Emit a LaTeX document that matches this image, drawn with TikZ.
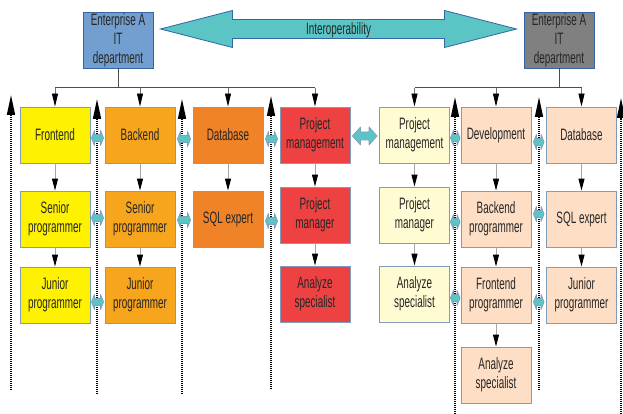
\documentclass[tikz,border=0pt]{standalone}
\usepackage{fontspec}
\setmainfont{Liberation Sans}[FakeStretch=0.6]
\usetikzlibrary{arrows.meta,calc}
\definecolor{cblue}{HTML}{729FCF}
\definecolor{cgray}{HTML}{808080}
\definecolor{cyel}{HTML}{FFF200}
\definecolor{corg}{HTML}{F8A51E}
\definecolor{cdb}{HTML}{F08327}
\definecolor{cred}{HTML}{EE4242}
\definecolor{clyel}{HTML}{FFFBD2}
\definecolor{cpch}{HTML}{FEDFC6}
\definecolor{cteal}{HTML}{5BC5C5}
\definecolor{cedge}{HTML}{7F9DB9}
\definecolor{ctop}{HTML}{3465A4}
\newcommand\dbl[7]{% left node, right node, y, half head height, half shaft, head length, gap
  \coordinate (yref) at (0,#3);
  \coordinate (dL) at ($(#1.east|-yref)+(#7,0)$);
  \coordinate (dR) at ($(#2.west|-yref)+(-#7,0)$);
  \path[dblarrow] (dL) -- ($(dL)+(#6,-#4)$) -- ($(dL)+(#6,-#5)$) -- ($(dR)+(-#6,-#5)$)
    -- ($(dR)+(-#6,-#4)$) -- (dR) -- ($(dR)+(-#6,#4)$) -- ($(dR)+(-#6,#5)$)
    -- ($(dL)+(#6,#5)$) -- ($(dL)+(#6,#4)$) -- cycle;
}
\begin{document}
\begin{tikzpicture}[x=1pt,y=-1pt,
  box/.style={draw=cedge, line width=0.9pt, minimum width=70pt, minimum height=56pt,
    inner sep=0pt, align=center, text=black!85, font=\fontsize{16.5}{19}\selectfont},
  topbox/.style={box, draw=ctop},
  dblarrow/.style={fill=cteal, draw=cedge, line width=0.7pt, line join=round},
  bigarrow/.style={fill=cteal, draw=ctop, line width=0.8pt},
  vdot/.style={line width=1.6pt, black, dash pattern=on 1pt off 1pt,
    -{Triangle[length=20pt,width=8pt,color=black]}},
  tree/.style={draw=black!70, line width=1pt},
  treearr/.style={draw=black!55, line width=0.8pt, -{Triangle[length=13pt,width=6pt,color=black]}},
  colarr/.style={draw=black!35, line width=1pt, -{Triangle[length=12pt,width=6pt,color=black]}},
  lbl/.style={inner sep=0pt, text=black!85, font=\fontsize{16.5}{19}\selectfont}
]
\useasboundingbox (0,0) rectangle (623,414);
\fill[white] (0,0) rectangle (623,414);

% dotted vertical arrows
\foreach \n/\x/\yb/\yt in {1/11/390/95, 2/97/394/99, 3/182/394/99, 4/271/389/96,
                           5/455/414/97, 6/539/390/97, 7/621/414/98} {
  \coordinate (vb\n) at (\x,\yb);
  \coordinate (vt\n) at (\x,\yt);
  \draw[vdot] (vb\n) -- (vt\n);
}

% top boxes
\node[topbox, fill=cblue] (ea) at (118,40) {Enterprise A\\IT\\department};
\node[topbox, fill=cgray] (eb) at (559,40) {Enterprise A\\IT\\department};

% left boxes
\node[box, fill=cyel] (fe) at (55,135) {Frontend};
\node[box, fill=cyel] (sp1) at (55,219) {Senior\\programmer};
\node[box, fill=cyel] (jp1) at (55,295) {Junior\\programmer};
\node[box, fill=corg] (be) at (140,135) {Backend};
\node[box, fill=corg] (sp2) at (140,219) {Senior\\programmer};
\node[box, fill=corg] (jp2) at (140,295) {Junior\\programmer};
\node[box, fill=cdb] (db1) at (228,135) {Database};
\node[box, fill=cdb] (sql1) at (228,219) {SQL expert};
\node[box, fill=cred] (pm1) at (315,135) {Project\\management};
\node[box, fill=cred] (pmr1) at (315,215) {Project\\manager};
\node[box, fill=cred] (as1) at (315,294) {Analyze\\specialist};

% right boxes
\node[box, fill=clyel] (pm2) at (414.5,135) {Project\\management};
\node[box, fill=clyel] (pmr2) at (414.5,215) {Project\\manager};
\node[box, fill=clyel] (as2) at (414.5,294) {Analyze\\specialist};
\node[box, fill=cpch] (dev) at (496,135) {Development};
\node[box, fill=cpch] (bp) at (496,219) {Backend\\programmer};
\node[box, fill=cpch] (fp) at (496,295) {Frontend\\programmer};
\node[box, fill=cpch] (as3) at (496,375) {Analyze\\specialist};
\node[box, fill=cpch] (db2) at (581.5,135) {Database};
\node[box, fill=cpch] (sql2) at (581.5,219) {SQL expert};
\node[box, fill=cpch] (jp3) at (581.5,295) {Junior\\programmer};

% trees
\coordinate (ty) at (0,88);
\draw[tree] (ea.south) -- (ea.south|-ty);
\draw[tree] (fe.north|-ty) -- (pm1.north|-ty);
\foreach \t in {fe,be,db1,pm1} \draw[treearr] (\t.north|-ty) -- (\t.north);
\draw[tree] (eb.south) -- (eb.south|-ty);
\draw[tree] (pm2.north|-ty) -- (db2.north|-ty);
\foreach \t in {pm2,dev,db2} \draw[treearr] (\t.north|-ty) -- (\t.north);

% column arrows
\draw[colarr] (fe) -- (sp1);
\draw[colarr] (sp1) -- (jp1);
\draw[colarr] (be) -- (sp2);
\draw[colarr] (sp2) -- (jp2);
\draw[colarr] (db1) -- (sql1);
\draw[colarr] (pm1) -- (pmr1);
\draw[colarr] (pmr1) -- (as1);
\draw[colarr] (pm2) -- (pmr2);
\draw[colarr] (pmr2) -- (as2);
\draw[colarr] (dev) -- (bp);
\draw[colarr] (bp) -- (fp);
\draw[colarr] (fp) -- (as3);
\draw[colarr] (db2) -- (sql2);
\draw[colarr] (sql2) -- (jp3);

% small double arrows
\dbl{fe}{be}{138}{7.5}{3.5}{3}{1}
\dbl{be}{db1}{139}{7.5}{3.5}{3}{2}
\dbl{db1}{pm1}{139}{7.5}{3.5}{3}{2}
\dbl{sp1}{sp2}{218}{7.5}{3.5}{3}{1}
\dbl{sp2}{sql1}{220}{7.5}{3.5}{3}{2}
\dbl{sql1}{pmr1}{221}{7.5}{3.5}{3}{2}
\dbl{jp1}{jp2}{302}{7.5}{3.5}{3}{1}
\dbl{pm1}{pm2}{136}{9}{4}{8}{2}
\dbl{pm2}{dev}{138}{7.5}{3.5}{3}{0.5}
\dbl{dev}{db2}{142}{7.5}{3.5}{3}{2}
\dbl{pmr2}{bp}{222}{7.5}{3.5}{3}{0.5}
\dbl{bp}{sql2}{214}{7.5}{3.5}{3}{2}
\dbl{as2}{fp}{298}{7.5}{3.5}{3}{0.5}
\dbl{fp}{jp3}{302}{7.5}{3.5}{3}{2}

% interoperability arrow
\coordinate (yref) at (0,29);
\coordinate (dL) at ($(ea.east|-yref)+(7,0)$);
\coordinate (dR) at ($(eb.west|-yref)+(-7,0)$);
\path[bigarrow] (dL) -- ($(dL)+(72,-18.5)$) -- ($(dL)+(72,-9.5)$) -- ($(dR)+(-72,-9.5)$)
  -- ($(dR)+(-72,-18.5)$) -- (dR) -- ($(dR)+(-72,18.5)$) -- ($(dR)+(-72,9.5)$)
  -- ($(dL)+(72,9.5)$) -- ($(dL)+(72,18.5)$) -- cycle;
\node[lbl] (io) at ($(dL)!0.5!(dR)+(0,1)$) {Interoperability};
\end{tikzpicture}
\end{document}
